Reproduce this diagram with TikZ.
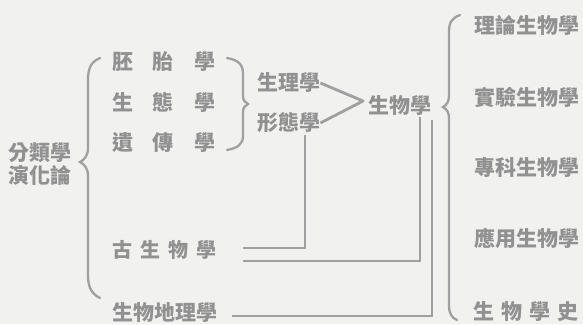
\documentclass[tikz,border=0pt]{standalone}
\usepackage{fontspec}
\newfontfamily\cjk{Noto Sans CJK TC}
\definecolor{ink}{RGB}{145,145,145}
\definecolor{paper}{RGB}{241,241,239}
\definecolor{wirec}{RGB}{160,160,160}
\begin{document}
\begin{tikzpicture}[x=1pt,y=-1pt,
  lab/.style={font=\cjk\bfseries\fontsize{21}{21}\selectfont, text=ink, inner sep=0pt, anchor=west},
  labs/.style={lab, font=\cjk\bfseries\fontsize{20}{20}\selectfont},
  wire/.style={draw=wirec, line width=2.8pt},
  bracel/.style={draw=wirec, line width=2.3pt, line cap=round}]
\fill[paper] (0,0) rectangle (583,324);
\useasboundingbox (0,0) rectangle (583,324);
% left column
\node[lab] (pt) at (112,62) {胚\hspace{19pt}胎\hspace{21pt}學};
\node[lab] (st) at (112,103) {生\hspace{19pt}態\hspace{21pt}學};
\node[lab] (yc) at (112,143) {遺\hspace{19pt}傳\hspace{21pt}學};
\node[lab] (fl) at (8,153) {分類學};
\node[lab] (yh) at (8,175) {演化論};
\node[lab] (sl) at (257,83) {生理學};
\node[lab] (xt) at (257,123) {形態學};
\node[lab] (sw) at (368,106) {生物學};
\node[labs] (gs) at (112,250) {古\hspace{8pt}生\hspace{8pt}物\hspace{8pt}學};
\node[lab] (dl) at (112,313) {生物地理學};
% right column
\node[lab] (r1) at (474,25) {理論生物學};
\node[lab] (r2) at (474,97) {實驗生物學};
\node[lab] (r3) at (474,168) {專科生物學};
\node[lab] (r4) at (474,238) {應用生物學};
\node[lab] (r5) at (473,312) {生\hspace{7pt}物\hspace{7pt}學\hspace{7pt}史};
% braces
\draw[bracel] (100,58) .. controls (91,62) and (88,68) .. (88,80) -- (88,148)
  .. controls (88,156) and (84,160) .. (80,162) .. controls (84,164) and (88,168) .. (88,176)
  -- (88,275) .. controls (88,288) and (92,294) .. (100,298);
\draw[bracel] (227,58) .. controls (238,60) and (243,64) .. (243,74) -- (243,96)
  .. controls (243,100) and (245,103) .. (248,104) .. controls (245,105) and (243,108) .. (243,112)
  -- (243,136) .. controls (243,144) and (238,148) .. (227,150);
\draw[bracel] (460,15) .. controls (452,18) and (449,22) .. (449,32) -- (449,96)
  .. controls (449,101) and (447,105) .. (443,107) .. controls (447,109) and (449,113) .. (449,118)
  -- (449,305) .. controls (449,314) and (452,318) .. (457,320);
% connectors
\coordinate (tip) at (363,101);
\draw[wire, line join=round] (sl.east) -- (tip) -- (xt.east);
\coordinate (v1t) at (305,135);
\coordinate (v1b) at (305,248);
\coordinate (g1) at (243,248);
\draw[wire] (v1t) -- (v1b) -- (g1);
\coordinate (g2) at (243,261);
\coordinate (c2) at (420,261);
\coordinate (t2) at (420,117);
\draw[wire] (g2) -- (c2) -- (t2);
\coordinate (g3) at (232,316);
\coordinate (c3) at (432,316);
\coordinate (t3) at (432,120);
\draw[wire] (g3) -- (c3) -- (t3);
\end{tikzpicture}
\end{document}
